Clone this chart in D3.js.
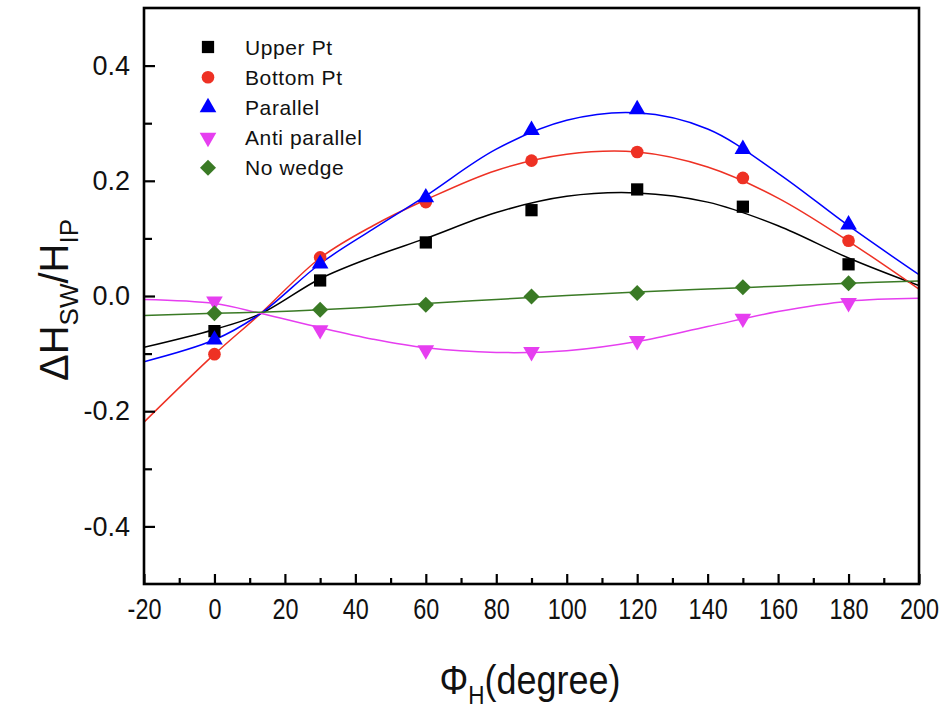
<!DOCTYPE html>
<html>
<head>
<meta charset="utf-8">
<script src="https://cdn.jsdelivr.net/npm/d3@7/dist/d3.min.js"></script>
<style>
  html, body { margin: 0; padding: 0; background: #fff; }
  svg text { font-family: "Liberation Sans", Arial, sans-serif; fill: #111; }
</style>
</head>
<body>
<svg id="chart" width="949" height="709"></svg>
<script>
// Measured field angles (degree) and switching-field shifts
const angles = [0, 30, 60, 90, 120, 150, 180];
const upperPt      = [-0.061, 0.027, 0.093, 0.149, 0.185, 0.155, 0.055];
const bottomPt     = [-0.101, 0.067, 0.163, 0.235, 0.250, 0.205, 0.096];
const parallel     = [-0.076, 0.056, 0.171, 0.288, 0.324, 0.255, 0.124];
const antiParallel = [-0.009, -0.059, -0.094, -0.097, -0.078, -0.039, -0.012];
const noWedge      = [-0.030, -0.024, -0.015, -0.001, 0.005, 0.015, 0.022];

// Fitted curves, sampled along the angle axis
const fitAngles = [-20, 0, 13, 30, 45, 60, 80, 100, 120, 140, 160, 180, 200];
const upperFit    = [-0.089, -0.058, -0.031, 0.030, 0.068, 0.100, 0.145, 0.173, 0.179, 0.163, 0.122, 0.066, 0.018];
const bottomFit   = [-0.219, -0.101, -0.031, 0.066, 0.122, 0.167, 0.218, 0.246, 0.250, 0.224, 0.170, 0.095, 0.012];
const parallelFit = [-0.114, -0.076, -0.031, 0.056, 0.116, 0.174, 0.255, 0.305, 0.318, 0.290, 0.213, 0.122, 0.037];
const antiFit     = [-0.006, -0.013, -0.030, -0.055, -0.075, -0.090, -0.098, -0.095, -0.079, -0.053, -0.027, -0.009, -0.004];
const noWedgeFit  = [-0.034, -0.030, -0.028, -0.024, -0.019, -0.013, -0.006, 0.001, 0.007, 0.012, 0.017, 0.022, 0.026];

const seriesNames  = ["Upper Pt", "Bottom Pt", "Parallel", "Anti parallel", "No wedge"];
const seriesColors = ["#000000", "#ee3124", "#0000ff", "#e63ef0", "#3a7a25"];
const seriesShapes = ["square", "circle", "triangle", "triangleDown", "diamond"];

const xTicks = [-20, 0, 20, 40, 60, 80, 100, 120, 140, 160, 180, 200];
const xTickLabels = ["-20", "0", "20", "40", "60", "80", "100", "120", "140", "160", "180", "200"];
const yTicks = [0.4, 0.2, 0.0, -0.2, -0.4];
const yTickLabels = ["0.4", "0.2", "0.0", "-0.2", "-0.4"];

const values = [upperPt, bottomPt, parallel, antiParallel, noWedge];
const fits = [upperFit, bottomFit, parallelFit, antiFit, noWedgeFit];

const svg = d3.select("#chart");
const L = 144, R = 919, T = 8, B = 584;

const x = d3.scaleLinear().domain([-20, 200]).range([L, R]);
const y = d3.scaleLinear().domain([-0.5, 0.5]).range([B, T]);

function symbolPath(shape) {
  switch (shape) {
    case "square": return d3.symbol(d3.symbolSquare, 150)();
    case "circle": return d3.symbol(d3.symbolCircle, 125)();
    case "triangle": return d3.symbol(d3.symbolTriangle, 120)();
    case "triangleDown": return d3.symbol(d3.symbolTriangle, 120)();
    case "diamond": return d3.symbol(d3.symbolSquare, 128)();
  }
}
function symbolRotate(shape) {
  if (shape === "triangleDown") return " rotate(180)";
  if (shape === "diamond") return " rotate(45)";
  return "";
}

// Fitted lines
const line = d3.line()
  .x(d => x(d[0]))
  .y(d => y(d[1]))
  .curve(d3.curveCatmullRom.alpha(0.5));

const plot = svg.append("g");
plot.append("clipPath").attr("id", "clip")
  .append("rect").attr("x", L).attr("y", T).attr("width", R - L).attr("height", B - T);

fits.forEach((f, i) => {
  plot.append("path")
    .attr("clip-path", "url(#clip)")
    .attr("d", line(fitAngles.map((a, j) => [a, f[j]])))
    .attr("fill", "none")
    .attr("stroke", seriesColors[i])
    .attr("stroke-width", 1.5);
});

// Data markers
values.forEach((vals, i) => {
  plot.selectAll(null)
    .data(angles.map((a, j) => [a, vals[j]]))
    .join("path")
    .attr("d", symbolPath(seriesShapes[i]))
    .attr("transform", d => `translate(${x(d[0])},${y(d[1])})` + symbolRotate(seriesShapes[i]))
    .attr("fill", seriesColors[i]);
});

// Axes with inward ticks
const yMajor = d3.axisLeft(y).tickValues(yTicks)
  .tickFormat((d, i) => yTickLabels[i]).tickSizeInner(-11).tickSizeOuter(0).tickPadding(14);
const yMinor = d3.axisLeft(y).tickValues([0.3, 0.1, -0.1, -0.3])
  .tickFormat("").tickSizeInner(-8).tickSizeOuter(0);
const xMajor = d3.axisBottom(x).tickValues(xTicks)
  .tickFormat((d, i) => xTickLabels[i]).tickSizeInner(-10).tickSizeOuter(0).tickPadding(14);
const xMinor = d3.axisBottom(x).tickValues(d3.range(-10, 200, 20))
  .tickFormat("").tickSizeInner(-6).tickSizeOuter(0);

function styleAxis(g) {
  g.select(".domain").remove();
  g.selectAll("line").attr("stroke", "#000").attr("stroke-width", 2.2);
}

svg.append("g").attr("transform", `translate(${L},0)`).call(yMajor).call(styleAxis)
  .selectAll("text").attr("font-size", 27).attr("fill", "#111")
  .attr("font-family", "Liberation Sans, Arial, sans-serif");
svg.append("g").attr("transform", `translate(${L},0)`).call(yMinor).call(styleAxis);
svg.append("g").attr("transform", `translate(0,${B})`).call(xMajor).call(styleAxis)
  .selectAll("text").attr("font-size", 30).attr("fill", "#111")
  .attr("font-family", "Liberation Sans, Arial, sans-serif")
  .attr("transform", "scale(0.78,1)");
svg.append("g").attr("transform", `translate(0,${B})`).call(xMinor).call(styleAxis);

// Frame
svg.append("rect")
  .attr("x", L).attr("y", T).attr("width", R - L).attr("height", B - T)
  .attr("fill", "none").attr("stroke", "#000").attr("stroke-width", 2.6);

// Legend
const legend = svg.append("g");
seriesNames.forEach((name, i) => {
  const cy = 47 + i * 30.2;
  legend.append("path")
    .attr("d", symbolPath(seriesShapes[i]))
    .attr("transform", `translate(208,${cy})` + symbolRotate(seriesShapes[i]))
    .attr("fill", seriesColors[i]);
  legend.append("text")
    .attr("x", 245).attr("y", cy + 7.5)
    .attr("font-size", 21)
    .attr("letter-spacing", 0.6)
    .text(name);
});

// Axis titles
const xt = svg.append("text")
  .attr("transform", "translate(530,694) scale(0.9,1)")
  .attr("text-anchor", "middle")
  .attr("font-size", 40);
xt.append("tspan").text("\u03A6");
xt.append("tspan").attr("font-size", 25).attr("dy", 10).text("H");
xt.append("tspan").attr("dy", -10).text("(degree)");

const yt = svg.append("text")
  .attr("transform", "translate(68,300) rotate(-90)")
  .attr("text-anchor", "middle")
  .attr("font-size", 40);
yt.append("tspan").text("\u0394H");
yt.append("tspan").attr("font-size", 26).attr("dy", 10).text("SW");
yt.append("tspan").attr("dy", -10).text("/H");
yt.append("tspan").attr("font-size", 26).attr("dy", 10).text("IP");
</script>
</body>
</html>
